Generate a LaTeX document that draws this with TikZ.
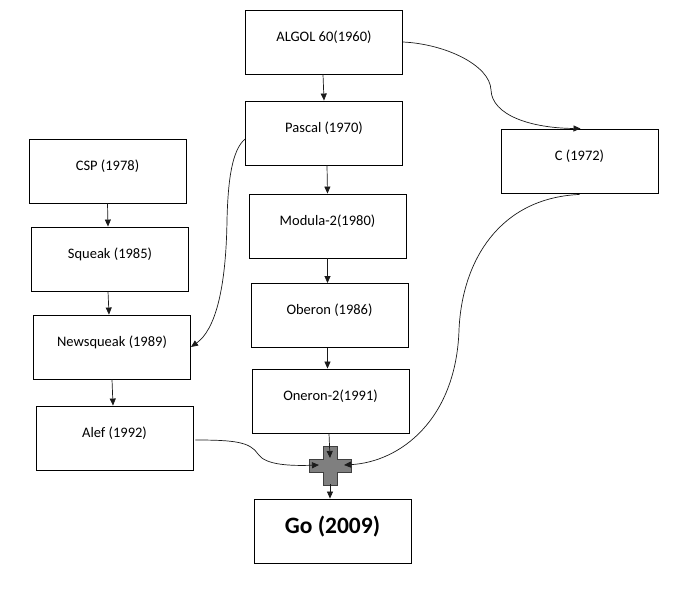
\documentclass[tikz,border=0pt]{standalone}
\usepackage{fontspec}
\setmainfont{Carlito}
\usetikzlibrary{arrows.meta,positioning}
\definecolor{PlusGray}{HTML}{7F7F7F}
\definecolor{PlusEdge}{HTML}{3F3F3F}
\definecolor{LinkInk}{HTML}{1A1A1A}

\begin{document}
\begin{tikzpicture}[
  x=1pt, y=-1pt,
  langbox/.style={draw=black, line width=0.9pt, minimum width=157pt, minimum height=64pt, inner sep=0pt, font=\fontsize{14.5}{16}\selectfont, text height=11pt, text depth=12.7pt},
  gobox/.style={langbox, font=\fontsize{23.5}{26}\selectfont\bfseries, text height=17pt, text depth=11.8pt},
  flow/.style={-{Triangle[length=7pt,width=6pt]}, line width=0.7pt, draw=LinkInk},
  plusmark/.style={fill=PlusGray, draw=PlusEdge, line width=1pt}
]
\useasboundingbox (0,0) rectangle (684,591);
\node[langbox] (algol) at (324,42) {ALGOL 60(1960)};
\node[langbox] (pascal) at (324,133) {Pascal (1970)};
\node[langbox] (c) at (579.5,161) {C (1972)};
\node[langbox] (csp) at (107.5,171) {CSP (1978)};
\node[langbox] (modula) at (327.5,226) {Modula-2(1980)};
\node[langbox] (squeak) at (110,259) {Squeak (1985)};
\node[langbox] (oberon) at (329.5,315.5) {Oberon (1986)};
\node[langbox] (newsqueak) at (112,347) {Newsqueak (1989)};
\node[langbox] (oneron) at (330.5,401) {Oneron-2(1991)};
\node[langbox] (alef) at (114.5,438) {Alef (1992)};
\node[gobox] (go) at (332.5,531) {Go (2009)};
% the plus where the three lines meet
\path[plusmark] (323,446) -- (337,446) -- (337,459) -- (351,459) -- (351,472) -- (337,472)
  -- (337,485) -- (323,485) -- (323,472) -- (309,472) -- (309,459) -- (323,459) -- cycle;
\coordinate (mergeN) at (330,458);
\coordinate (mergeW) at (319,465);
\coordinate (mergeE) at (344,465);
\coordinate (mergeS) at (330,484);
% straight links
\draw[flow] ([xshift=-1pt]algol.south) -- (pascal.north);
\draw[flow] ([xshift=3pt]pascal.south) -- (modula.north);
\draw[flow] (modula.south) -- ([xshift=-2pt]oberon.north);
\draw[flow] ([xshift=-2pt]oberon.south) -- ([xshift=-3pt]oneron.north);
\draw[flow] ([xshift=-1.5pt]oneron.south) -- (mergeN);
\draw[flow] (mergeS) -- ([xshift=-2.5pt]go.north);
\draw[flow] (csp.south) -- ([xshift=-2pt]squeak.north);
\draw[flow] ([xshift=-2pt]squeak.south) -- ([xshift=-3pt]newsqueak.north);
\draw[flow] (newsqueak.south) -- ([xshift=-1.5pt]alef.north);
% curved links
\draw[flow] (algol.east) .. controls (445,44) and (490,65) .. (491,90)
  .. controls (492,115) and (530,128) .. ([xshift=1pt]c.north);
\draw[flow] ([yshift=-6pt]pascal.west) .. controls (232,150) and (228,180) .. (227,220)
  .. controls (226,290) and (215,330) .. (newsqueak.east);
\draw[flow] ([xshift=2pt,yshift=-2pt]alef.east) .. controls (235,440) and (250,442) .. (258,454)
  .. controls (265,465) and (290,466) .. (mergeW);
\draw[flow] ([yshift=-1pt]c.south) .. controls (500,198) and (462,260) .. (459,330)
  .. controls (456,420) and (400,462) .. (mergeE);
\end{tikzpicture}
\end{document}
